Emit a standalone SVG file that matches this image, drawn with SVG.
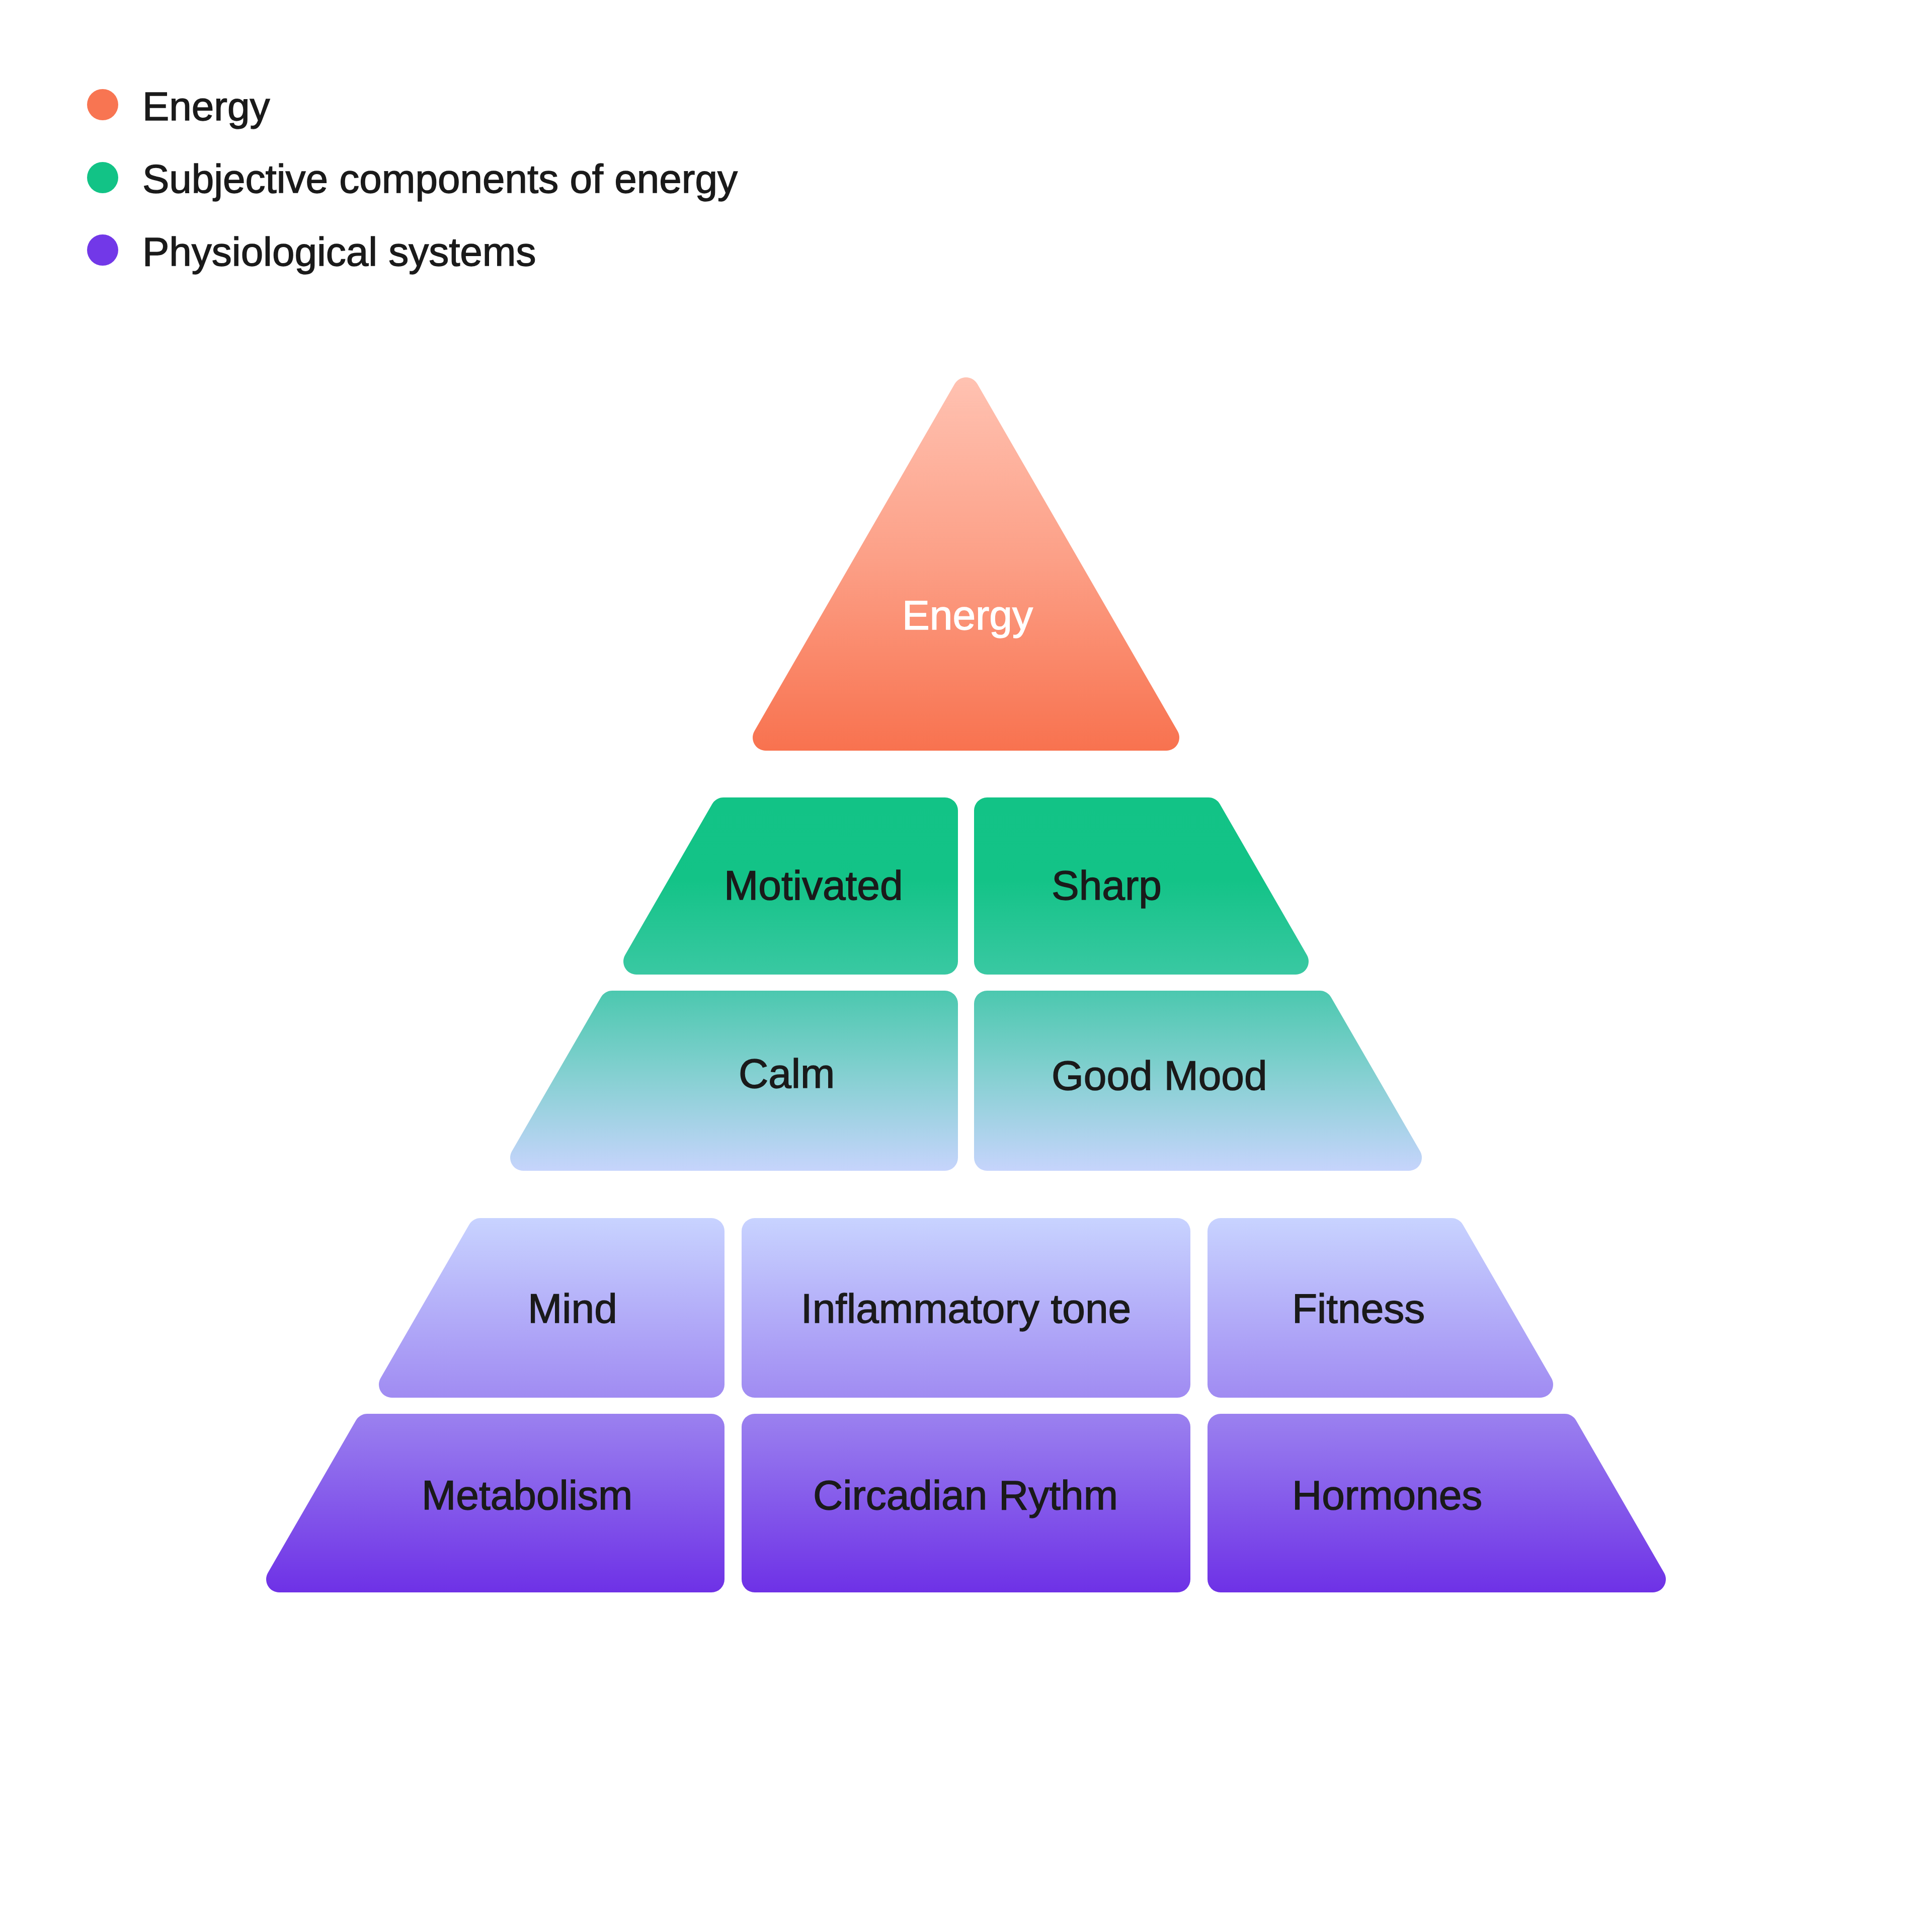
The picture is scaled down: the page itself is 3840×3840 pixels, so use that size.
<svg xmlns="http://www.w3.org/2000/svg" width="3840" height="3840" viewBox="0 0 3840 3840">
<style>
text{font-family:"Liberation Sans",Arial,sans-serif;font-size:82px;fill:#1A1A1A;stroke:#1A1A1A;stroke-width:1.4}
.leg{font-size:80px}
.w{fill:#FFFFFF;stroke:#FFFFFF}
</style>
<defs>
<linearGradient id="gTop" gradientUnits="userSpaceOnUse" x1="0" y1="740" x2="0" y2="1492">
<stop offset="0" stop-color="#FFC3B3"/>
<stop offset="0.5" stop-color="#FC9F86"/>
<stop offset="1" stop-color="#F8724F"/>
</linearGradient>
<linearGradient id="gGreen" gradientUnits="userSpaceOnUse" x1="0" y1="1585" x2="0" y2="2327">
<stop offset="0" stop-color="#12C386"/>
<stop offset="0.22" stop-color="#13C387"/>
<stop offset="0.47" stop-color="#39C8A2"/>
<stop offset="0.52" stop-color="#4CC8AF"/>
<stop offset="0.75" stop-color="#86D0D2"/>
<stop offset="1" stop-color="#C6D4FC"/>
</linearGradient>
<linearGradient id="gPurple" gradientUnits="userSpaceOnUse" x1="0" y1="2421" x2="0" y2="3165">
<stop offset="0" stop-color="#C8D3FF"/>
<stop offset="0.48" stop-color="#A08BF2"/>
<stop offset="0.53" stop-color="#9A80EF"/>
<stop offset="1" stop-color="#6E31E6"/>
</linearGradient>
</defs>

<g id="legend">
<circle cx="204" cy="208" r="31" fill="#F87552"/>
<text class="leg" x="283" y="239">Energy</text>
<circle cx="204" cy="353" r="31" fill="#12C386"/>
<text class="leg" x="283" y="383">Subjective components of energy</text>
<circle cx="204" cy="497" r="31" fill="#7238E8"/>
<text class="leg" x="283" y="528">Physiological systems</text>
</g>

<g id="node-energy">
<path d="M 1897.5,763 A 26 26 0 0 1 1942.5,763 L 2340.5,1453 A 26 26 0 0 1 2318,1492 L 1522,1492 A 26 26 0 0 1 1499.5,1453 Z" fill="url(#gTop)"/>
<text class="w" x="1923" y="1251" text-anchor="middle">Energy</text>
</g>

<g id="node-motivated">
<path d="M 1438,1585 L 1878,1585 A 26 26 0 0 1 1904,1611 L 1904,1911 A 26 26 0 0 1 1878,1937 L 1265,1937 A 26 26 0 0 1 1242.5,1898 L 1415.5,1598 A 26 26 0 0 1 1438,1585 Z" fill="url(#gGreen)"/>
<text x="1439" y="1788">Motivated</text>
</g>
<g id="node-sharp">
<path d="M 1962,1585 L 2402,1585 A 26 26 0 0 1 2424.5,1598 L 2597.5,1898 A 26 26 0 0 1 2575,1937 L 1962,1937 A 26 26 0 0 1 1936,1911 L 1936,1611 A 26 26 0 0 1 1962,1585 Z" fill="url(#gGreen)"/>
<text x="2090" y="1788">Sharp</text>
</g>

<g id="node-calm">
<path d="M 1217,1969 L 1878,1969 A 26 26 0 0 1 1904,1995 L 1904,2301 A 26 26 0 0 1 1878,2327 L 1040,2327 A 26 26 0 0 1 1017.5,2288 L 1194.5,1982 A 26 26 0 0 1 1217,1969 Z" fill="url(#gGreen)"/>
<text x="1468" y="2162">Calm</text>
</g>
<g id="node-goodmood">
<path d="M 1962,1969 L 2623,1969 A 26 26 0 0 1 2645.5,1982 L 2822.5,2288 A 26 26 0 0 1 2800,2327 L 1962,2327 A 26 26 0 0 1 1936,2301 L 1936,1995 A 26 26 0 0 1 1962,1969 Z" fill="url(#gGreen)"/>
<text x="2090" y="2166">Good Mood</text>
</g>

<g id="node-mind">
<path d="M 955,2421 L 1414,2421 A 26 26 0 0 1 1440,2447 L 1440,2752 A 26 26 0 0 1 1414,2778 L 779,2778 A 26 26 0 0 1 756.5,2739 L 932.5,2434 A 26 26 0 0 1 955,2421 Z" fill="url(#gPurple)"/>
<text x="1049" y="2629">Mind</text>
</g>
<g id="node-inflammatory">
<rect x="1474" y="2421" width="892" height="357" rx="26" fill="url(#gPurple)"/>
<text x="1920" y="2629" text-anchor="middle">Inflammatory tone</text>
</g>
<g id="node-fitness">
<path d="M 2426,2421 L 2885,2421 A 26 26 0 0 1 2907.5,2434 L 3083.5,2739 A 26 26 0 0 1 3061,2778 L 2426,2778 A 26 26 0 0 1 2400,2752 L 2400,2447 A 26 26 0 0 1 2426,2421 Z" fill="url(#gPurple)"/>
<text x="2568" y="2629">Fitness</text>
</g>

<g id="node-metabolism">
<path d="M 730,2810 L 1414,2810 A 26 26 0 0 1 1440,2836 L 1440,3139 A 26 26 0 0 1 1414,3165 L 555,3165 A 26 26 0 0 1 532.5,3126 L 707.5,2823 A 26 26 0 0 1 730,2810 Z" fill="url(#gPurple)"/>
<text x="838" y="3000">Metabolism</text>
</g>
<g id="node-circadian">
<rect x="1474" y="2810" width="892" height="355" rx="26" fill="url(#gPurple)"/>
<text x="1919" y="3000" text-anchor="middle">Circadian Rythm</text>
</g>
<g id="node-hormones">
<path d="M 2426,2810 L 3110,2810 A 26 26 0 0 1 3132.5,2823 L 3307.5,3126 A 26 26 0 0 1 3285,3165 L 2426,3165 A 26 26 0 0 1 2400,3139 L 2400,2836 A 26 26 0 0 1 2426,2810 Z" fill="url(#gPurple)"/>
<text x="2568" y="3000">Hormones</text>
</g>

<g id="connectors"></g>
</svg>
